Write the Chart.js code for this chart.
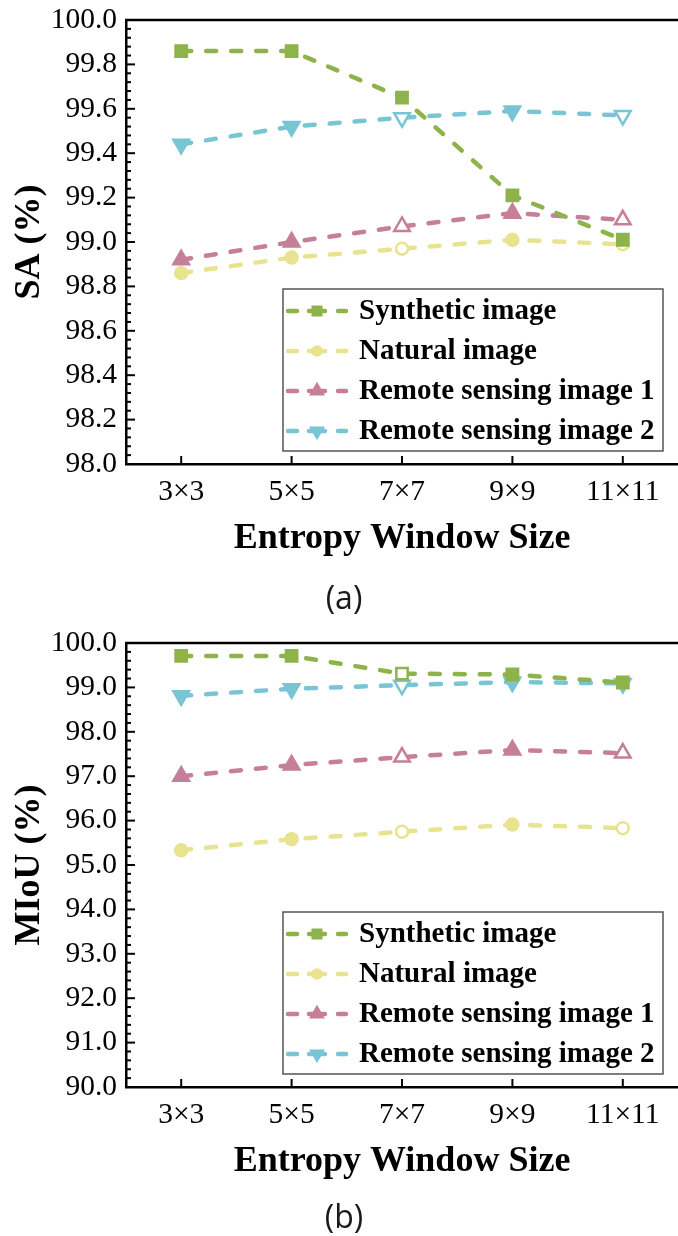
<!DOCTYPE html>
<html>
<head>
<meta charset="utf-8">
<script src="https://cdn.jsdelivr.net/npm/chart.js@4.4.1/dist/chart.umd.min.js"></script>
<style>
  html, body { margin: 0; padding: 0; background: #fff; }
  body { width: 678px; height: 1236px; position: relative; overflow: hidden; }
  canvas { position: absolute; left: 0; }
  #c1 { top: 0; }
  #c2 { top: 623px; }
  .cap { position: absolute; font-family: "Open Sans", "Noto Sans", sans-serif; font-size: 32px; color: #1a1a1a; transform: translate(-50%, -50%); white-space: nowrap; }
</style>
</head>
<body>
<canvas id="c1" width="678" height="580"></canvas>
<div class="cap" style="left:344px; top:596px;">(a)</div>
<canvas id="c2" width="678" height="580"></canvas>
<div class="cap" style="left:344px; top:1215px;">(b)</div>
<script>
// ---- data ----
const categories = ['3×3', '5×5', '7×7', '9×9', '11×11'];
const seriesNames = ['Synthetic image', 'Natural image', 'Remote sensing image 1', 'Remote sensing image 2'];

const saSynthetic = [99.86, 99.86, 99.65, 99.21, 99.01];
const saNatural   = [98.86, 98.93, 98.97, 99.01, 98.99];
const saRemote1   = [98.92, 99.00, 99.07, 99.13, 99.10];
const saRemote2   = [99.44, 99.52, 99.56, 99.59, 99.57];

const miouSynthetic = [99.71, 99.71, 99.31, 99.29, 99.11];
const miouNatural   = [95.33, 95.58, 95.75, 95.91, 95.83];
const miouRemote1   = [97.00, 97.25, 97.43, 97.59, 97.52];
const miouRemote2   = [98.81, 98.97, 99.05, 99.12, 99.09];

const saAxis   = { min: 98, max: 100, step: 0.2, title: 'SA (%)' };
const miouAxis = { min: 90, max: 100, step: 1.0, title: 'MIoU (%)' };
const xTitle = 'Entropy Window Size';

// ---- styles ----
const colors = ['#8FB34B', '#E8E38F', '#C67F98', '#7AC5D3'];
const shapes = [
  { style: 'rect', rot: 0, r: 8 },
  { style: 'circle', rot: 0, r: 6 },
  { style: 'triangle', rot: 0, r: 9 },
  { style: 'triangle', rot: 180, r: 9 }
];
const serif = '"Liberation Serif", "Times New Roman", serif';

function fills(i, hollowIdx) {
  return categories.map((_, k) => hollowIdx.includes(k) ? '#ffffff' : colors[i]);
}

function makeDatasets(values, squareHollow) {
  return values.map((vals, i) => ({
    label: seriesNames[i],
    data: vals,
    borderColor: colors[i],
    backgroundColor: colors[i],
    borderWidth: 4.5,
    borderDash: [10, 15],
    borderCapStyle: 'round',
    tension: 0,
    fill: false,
    pointStyle: shapes[i].style,
    rotation: shapes[i].rot,
    pointRadius: shapes[i].r,
    pointBorderWidth: 2.5,
    pointBorderColor: colors[i],
    pointBackgroundColor: i === 0 ? fills(i, squareHollow) : fills(i, [2, 4])
  }));
}

const frameTicks = {
  id: 'frameTicks',
  afterDraw(chart, args, opts) {
    const ctx = chart.ctx, ca = chart.chartArea;
    const xs = chart.scales.x, ys = chart.scales.y;
    ctx.save();
    ctx.strokeStyle = '#000';
    ctx.lineWidth = 2.5;
    ctx.beginPath();
    ctx.moveTo(ca.left - 1, ca.top);
    ctx.lineTo(chart.width, ca.top);
    ctx.stroke();
    ctx.lineWidth = 2;
    const n = Math.round((ys.max - ys.min) / opts.step);
    for (let k = 0; k <= n; k++) {
      const v = ys.min + k * opts.step;
      const y = ys.getPixelForValue(v);
      ctx.beginPath(); ctx.moveTo(ca.left, y); ctx.lineTo(ca.left + 9, y); ctx.stroke();
      if (k < n) {
        for (let m = 1; m < 5; m++) {
          const ym = ys.getPixelForValue(v + m * opts.step / 5);
          ctx.beginPath(); ctx.moveTo(ca.left, ym); ctx.lineTo(ca.left + 5, ym); ctx.stroke();
        }
      }
    }
    categories.forEach((c, i) => {
      const x = xs.getPixelForValue(i);
      ctx.beginPath(); ctx.moveTo(x, ca.bottom); ctx.lineTo(x, ca.bottom - 8); ctx.stroke();
    });
    ctx.restore();
  }
};

function drawMarker(ctx, shape, x, y, color) {
  ctx.save();
  ctx.fillStyle = color;
  ctx.strokeStyle = color;
  ctx.lineWidth = 2;
  ctx.beginPath();
  if (shape.style === 'rect') {
    const s = shape.r * Math.SQRT1_2;
    ctx.rect(x - s, y - s, 2 * s, 2 * s);
  } else if (shape.style === 'circle') {
    ctx.arc(x, y, shape.r, 0, Math.PI * 2);
  } else {
    const r = shape.r;
    let a = shape.rot * Math.PI / 180;
    ctx.moveTo(x + Math.sin(a) * r, y - Math.cos(a) * r);
    a += 2 * Math.PI / 3;
    ctx.lineTo(x + Math.sin(a) * r, y - Math.cos(a) * r);
    a += 2 * Math.PI / 3;
    ctx.lineTo(x + Math.sin(a) * r, y - Math.cos(a) * r);
    ctx.closePath();
  }
  ctx.fill();
  ctx.stroke();
  ctx.restore();
}

const boxLegend = {
  id: 'boxLegend',
  afterDraw(chart) {
    const ctx = chart.ctx, ca = chart.chartArea;
    const bx = ca.left + 157, by = ca.top + 269, bw = 380, bh = 162;
    ctx.save();
    ctx.fillStyle = '#fff';
    ctx.fillRect(bx, by, bw, bh);
    ctx.strokeStyle = '#555';
    ctx.lineWidth = 1.5;
    ctx.strokeRect(bx, by, bw, bh);
    chart.data.datasets.forEach((ds, i) => {
      const y = by + 22 + 40 * i;
      ctx.strokeStyle = colors[i];
      ctx.lineWidth = 4.5;
      ctx.lineCap = 'round';
      ctx.beginPath(); ctx.moveTo(bx + 5, y); ctx.lineTo(bx + 14, y); ctx.stroke();
      ctx.beginPath(); ctx.moveTo(bx + 55, y); ctx.lineTo(bx + 63, y); ctx.stroke();
      ctx.beginPath(); ctx.moveTo(bx + 26, y); ctx.lineTo(bx + 42, y); ctx.stroke();
      drawMarker(ctx, { style: shapes[i].style, rot: shapes[i].rot, r: shapes[i].r * 0.8 }, bx + 34, y, colors[i]);
      ctx.fillStyle = '#000';
      ctx.font = 'bold 29px ' + serif;
      ctx.textBaseline = 'middle';
      ctx.textAlign = 'left';
      ctx.fillText(ds.label, bx + 76, y + 1);
    });
    ctx.restore();
  }
};

function makeChart(id, datasets, axis) {
  return new Chart(document.getElementById(id), {
    type: 'line',
    data: { labels: categories, datasets },
    plugins: [frameTicks, boxLegend],
    options: {
      responsive: false,
      animation: false,
      devicePixelRatio: 1,
      layout: { autoPadding: false, padding: { top: 20, right: 0, bottom: 0, left: 0 } },
      plugins: {
        legend: { display: false },
        tooltip: { enabled: false },
        frameTicks: { step: axis.step }
      },
      scales: {
        x: {
          type: 'category',
          offset: true,
          grid: { display: false, drawTicks: false },
          border: { display: true, color: '#000', width: 2.5 },
          ticks: { color: '#000', font: { family: serif, size: 29.5 }, padding: 11, maxRotation: 0, autoSkip: false },
          title: { display: true, text: xTitle, color: '#000', font: { family: serif, size: 36, weight: 'bold' }, padding: { top: 0, bottom: 20 } },
          afterFit(s) { s.height = 116; s.paddingLeft = 0; s.paddingRight = 0; }
        },
        y: {
          min: axis.min,
          max: axis.max,
          grid: { display: false, drawTicks: false },
          border: { display: true, color: '#000', width: 2.5 },
          ticks: { stepSize: axis.step, color: '#000', font: { family: serif, size: 29.5 }, padding: 9,
                   callback: v => Number(v).toFixed(1) },
          title: { display: true, text: axis.title, color: '#000', font: { family: serif, size: 36, weight: 'bold' }, padding: { top: 8, bottom: 0 } },
          afterFit(s) { s.width = 126; s.paddingTop = 0; s.paddingBottom = 0; }
        }
      }
    }
  });
}

makeChart('c1', makeDatasets([saSynthetic, saNatural, saRemote1, saRemote2], []), saAxis);
makeChart('c2', makeDatasets([miouSynthetic, miouNatural, miouRemote1, miouRemote2], [2]), miouAxis);
</script>
</body>
</html>
